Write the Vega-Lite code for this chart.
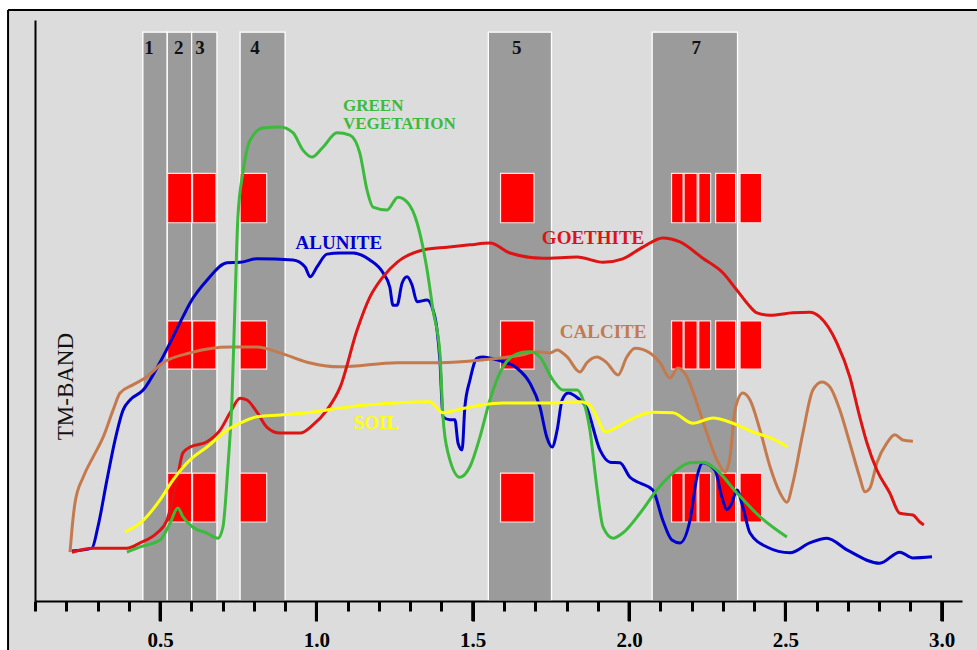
{
  "$schema": "https://vega.github.io/schema/vega-lite/v6.json",
  "width": 927,
  "height": 581,
  "autosize": {"type": "none"},
  "padding": {"left": 35, "top": 20, "right": 15, "bottom": 49},
  "background": "#dcdcdc",
  "config": {
    "view": {"stroke": null},
    "axis": {"grid": false, "title": null}
  },
  "layer": [
    {
      "data": {"values": [
        {"x1": -0.2, "x2": 0.0138, "y1": -30, "y2": 110},
        {"x1": -0.2, "x2": 3.4, "y1": 101.7, "y2": 110}
      ]},
      "mark": {"type": "rect", "fill": "#ffffff", "clip": false},
      "encoding": {
        "x": {"field": "x1", "type": "quantitative", "scale": {"domain": [0.1, 3.065], "nice": false, "zero": false}},
        "x2": {"field": "x2"},
        "y": {"field": "y1", "type": "quantitative", "scale": {"domain": [0, 100], "nice": false, "zero": false}},
        "y2": {"field": "y2"}
      }
    },
    {
      "data": {"values": [
        {"x1": 0.0138, "x2": 0.0138, "y1": -30, "y2": 101.7},
        {"x1": 0.0138, "x2": 3.4, "y1": 101.7, "y2": 101.7}
      ]},
      "mark": {"type": "rule", "color": "#000000", "strokeWidth": 2, "clip": false},
      "encoding": {
        "x": {"field": "x1", "type": "quantitative"},
        "x2": {"field": "x2"},
        "y": {"field": "y1", "type": "quantitative"},
        "y2": {"field": "y2"}
      }
    },
    {
      "data": {"values": [
        {"band": "1", "x1": 0.445, "x2": 0.523},
        {"band": "2", "x1": 0.523, "x2": 0.601},
        {"band": "3", "x1": 0.601, "x2": 0.682},
        {"band": "4", "x1": 0.756, "x2": 0.900},
        {"band": "5", "x1": 1.550, "x2": 1.752},
        {"band": "7", "x1": 2.074, "x2": 2.347}
      ]},
      "mark": {"type": "rect", "fill": "#9b9b9b", "stroke": "#ffffff", "strokeWidth": 1.3},
      "encoding": {
        "x": {"field": "x1", "type": "quantitative"},
        "x2": {"field": "x2"},
        "y": {"datum": 0, "type": "quantitative"},
        "y2": {"datum": 97.9}
      }
    },
    {
      "data": {"values": [
        {"x1": 0.524, "x2": 0.601, "y1": 65.1, "y2": 73.6},
        {"x1": 0.604, "x2": 0.679, "y1": 65.1, "y2": 73.6},
        {"x1": 0.756, "x2": 0.841, "y1": 65.1, "y2": 73.6},
        {"x1": 1.589, "x2": 1.696, "y1": 65.1, "y2": 73.6},
        {"x1": 2.136, "x2": 2.173, "y1": 65.1, "y2": 73.6},
        {"x1": 2.176, "x2": 2.218, "y1": 65.1, "y2": 73.6},
        {"x1": 2.223, "x2": 2.261, "y1": 65.1, "y2": 73.6},
        {"x1": 2.277, "x2": 2.341, "y1": 65.1, "y2": 73.6},
        {"x1": 2.355, "x2": 2.424, "y1": 65.1, "y2": 73.6},
        {"x1": 0.524, "x2": 0.601, "y1": 39.9, "y2": 48.2},
        {"x1": 0.604, "x2": 0.679, "y1": 39.9, "y2": 48.2},
        {"x1": 0.756, "x2": 0.841, "y1": 39.9, "y2": 48.2},
        {"x1": 1.589, "x2": 1.696, "y1": 39.9, "y2": 48.2},
        {"x1": 2.136, "x2": 2.173, "y1": 39.9, "y2": 48.2},
        {"x1": 2.176, "x2": 2.218, "y1": 39.9, "y2": 48.2},
        {"x1": 2.223, "x2": 2.261, "y1": 39.9, "y2": 48.2},
        {"x1": 2.277, "x2": 2.341, "y1": 39.9, "y2": 48.2},
        {"x1": 2.355, "x2": 2.424, "y1": 39.9, "y2": 48.2},
        {"x1": 0.524, "x2": 0.601, "y1": 13.6, "y2": 22.0},
        {"x1": 0.604, "x2": 0.679, "y1": 13.6, "y2": 22.0},
        {"x1": 0.756, "x2": 0.841, "y1": 13.6, "y2": 22.0},
        {"x1": 1.589, "x2": 1.696, "y1": 13.6, "y2": 22.0},
        {"x1": 2.136, "x2": 2.173, "y1": 13.6, "y2": 22.0},
        {"x1": 2.176, "x2": 2.218, "y1": 13.6, "y2": 22.0},
        {"x1": 2.223, "x2": 2.261, "y1": 13.6, "y2": 22.0},
        {"x1": 2.277, "x2": 2.341, "y1": 13.6, "y2": 22.0},
        {"x1": 2.355, "x2": 2.424, "y1": 13.6, "y2": 22.0}
      ]},
      "mark": {"type": "rect", "fill": "#ff0000", "stroke": "#ffe4e4", "strokeWidth": 1.2},
      "encoding": {
        "x": {"field": "x1", "type": "quantitative"},
        "x2": {"field": "x2"},
        "y": {"field": "y1", "type": "quantitative"},
        "y2": {"field": "y2"}
      }
    },
    {
      "data": {"values": [
        {"band": "1", "lx": 0.465},
        {"band": "2", "lx": 0.560},
        {"band": "3", "lx": 0.628},
        {"band": "4", "lx": 0.804},
        {"band": "5", "lx": 1.641},
        {"band": "7", "lx": 2.215}
      ]},
      "mark": {"type": "text", "font": "Liberation Serif", "fontWeight": "bold", "fontSize": 19, "color": "#111111", "baseline": "middle", "align": "center"},
      "encoding": {
        "x": {"field": "lx", "type": "quantitative"},
        "y": {"datum": 95.2, "type": "quantitative"},
        "text": {"field": "band"}
      }
    },
    {
      "data": {"values": [
        {"m": "ALUNITE", "x": 0.218, "y": 8.6},
        {"m": "ALUNITE", "x": 0.282, "y": 9.1},
        {"m": "ALUNITE", "x": 0.301, "y": 12.7},
        {"m": "ALUNITE", "x": 0.330, "y": 20.8},
        {"m": "ALUNITE", "x": 0.356, "y": 27.7},
        {"m": "ALUNITE", "x": 0.382, "y": 32.9},
        {"m": "ALUNITE", "x": 0.404, "y": 34.6},
        {"m": "ALUNITE", "x": 0.446, "y": 36.3},
        {"m": "ALUNITE", "x": 0.500, "y": 41.1},
        {"m": "ALUNITE", "x": 0.573, "y": 48.9},
        {"m": "ALUNITE", "x": 0.596, "y": 51.3},
        {"m": "ALUNITE", "x": 0.650, "y": 55.2},
        {"m": "ALUNITE", "x": 0.714, "y": 58.2},
        {"m": "ALUNITE", "x": 0.756, "y": 58.3},
        {"m": "ALUNITE", "x": 0.810, "y": 58.9},
        {"m": "ALUNITE", "x": 0.925, "y": 58.7},
        {"m": "ALUNITE", "x": 0.964, "y": 57.5},
        {"m": "ALUNITE", "x": 0.980, "y": 55.8},
        {"m": "ALUNITE", "x": 1.002, "y": 57.5},
        {"m": "ALUNITE", "x": 1.034, "y": 59.7},
        {"m": "ALUNITE", "x": 1.076, "y": 59.9},
        {"m": "ALUNITE", "x": 1.117, "y": 59.9},
        {"m": "ALUNITE", "x": 1.171, "y": 58.7},
        {"m": "ALUNITE", "x": 1.213, "y": 56.5},
        {"m": "ALUNITE", "x": 1.235, "y": 54.0},
        {"m": "ALUNITE", "x": 1.245, "y": 50.9},
        {"m": "ALUNITE", "x": 1.258, "y": 50.9},
        {"m": "ALUNITE", "x": 1.274, "y": 54.7},
        {"m": "ALUNITE", "x": 1.290, "y": 55.8},
        {"m": "ALUNITE", "x": 1.306, "y": 54.4},
        {"m": "ALUNITE", "x": 1.322, "y": 51.5},
        {"m": "ALUNITE", "x": 1.354, "y": 51.8},
        {"m": "ALUNITE", "x": 1.370, "y": 50.6},
        {"m": "ALUNITE", "x": 1.386, "y": 46.6},
        {"m": "ALUNITE", "x": 1.395, "y": 41.5},
        {"m": "ALUNITE", "x": 1.405, "y": 31.7},
        {"m": "ALUNITE", "x": 1.427, "y": 31.2},
        {"m": "ALUNITE", "x": 1.443, "y": 31.2},
        {"m": "ALUNITE", "x": 1.453, "y": 27.2},
        {"m": "ALUNITE", "x": 1.466, "y": 26.0},
        {"m": "ALUNITE", "x": 1.475, "y": 33.4},
        {"m": "ALUNITE", "x": 1.491, "y": 38.0},
        {"m": "ALUNITE", "x": 1.514, "y": 41.8},
        {"m": "ALUNITE", "x": 1.533, "y": 42.0},
        {"m": "ALUNITE", "x": 1.578, "y": 41.5},
        {"m": "ALUNITE", "x": 1.641, "y": 40.1},
        {"m": "ALUNITE", "x": 1.683, "y": 37.5},
        {"m": "ALUNITE", "x": 1.715, "y": 33.4},
        {"m": "ALUNITE", "x": 1.737, "y": 28.2},
        {"m": "ALUNITE", "x": 1.754, "y": 26.5},
        {"m": "ALUNITE", "x": 1.770, "y": 29.4},
        {"m": "ALUNITE", "x": 1.786, "y": 34.6},
        {"m": "ALUNITE", "x": 1.805, "y": 35.8},
        {"m": "ALUNITE", "x": 1.837, "y": 34.9},
        {"m": "ALUNITE", "x": 1.865, "y": 33.2},
        {"m": "ALUNITE", "x": 1.907, "y": 26.0},
        {"m": "ALUNITE", "x": 1.939, "y": 23.9},
        {"m": "ALUNITE", "x": 1.971, "y": 23.8},
        {"m": "ALUNITE", "x": 2.003, "y": 21.3},
        {"m": "ALUNITE", "x": 2.035, "y": 20.3},
        {"m": "ALUNITE", "x": 2.076, "y": 19.1},
        {"m": "ALUNITE", "x": 2.108, "y": 13.9},
        {"m": "ALUNITE", "x": 2.137, "y": 10.5},
        {"m": "ALUNITE", "x": 2.163, "y": 10.0},
        {"m": "ALUNITE", "x": 2.195, "y": 13.9},
        {"m": "ALUNITE", "x": 2.217, "y": 21.3},
        {"m": "ALUNITE", "x": 2.236, "y": 23.8},
        {"m": "ALUNITE", "x": 2.275, "y": 22.5},
        {"m": "ALUNITE", "x": 2.297, "y": 17.9},
        {"m": "ALUNITE", "x": 2.313, "y": 15.7},
        {"m": "ALUNITE", "x": 2.329, "y": 16.9},
        {"m": "ALUNITE", "x": 2.345, "y": 19.1},
        {"m": "ALUNITE", "x": 2.364, "y": 16.2},
        {"m": "ALUNITE", "x": 2.387, "y": 11.7},
        {"m": "ALUNITE", "x": 2.441, "y": 9.3},
        {"m": "ALUNITE", "x": 2.515, "y": 8.3},
        {"m": "ALUNITE", "x": 2.578, "y": 10.0},
        {"m": "ALUNITE", "x": 2.633, "y": 10.8},
        {"m": "ALUNITE", "x": 2.697, "y": 8.8},
        {"m": "ALUNITE", "x": 2.802, "y": 6.5},
        {"m": "ALUNITE", "x": 2.866, "y": 8.4},
        {"m": "ALUNITE", "x": 2.908, "y": 7.4},
        {"m": "ALUNITE", "x": 2.969, "y": 7.6},

        {"m": "CALCITE", "x": 0.212, "y": 8.4},
        {"m": "CALCITE", "x": 0.218, "y": 12.2},
        {"m": "CALCITE", "x": 0.228, "y": 16.9},
        {"m": "CALCITE", "x": 0.254, "y": 21.3},
        {"m": "CALCITE", "x": 0.286, "y": 24.8},
        {"m": "CALCITE", "x": 0.318, "y": 28.2},
        {"m": "CALCITE", "x": 0.350, "y": 32.9},
        {"m": "CALCITE", "x": 0.372, "y": 35.8},
        {"m": "CALCITE", "x": 0.413, "y": 37.2},
        {"m": "CALCITE", "x": 0.458, "y": 38.6},
        {"m": "CALCITE", "x": 0.509, "y": 41.0},
        {"m": "CALCITE", "x": 0.596, "y": 42.7},
        {"m": "CALCITE", "x": 0.724, "y": 43.7},
        {"m": "CALCITE", "x": 0.810, "y": 43.7},
        {"m": "CALCITE", "x": 0.884, "y": 42.7},
        {"m": "CALCITE", "x": 0.970, "y": 41.1},
        {"m": "CALCITE", "x": 1.076, "y": 40.3},
        {"m": "CALCITE", "x": 1.258, "y": 41.0},
        {"m": "CALCITE", "x": 1.395, "y": 41.0},
        {"m": "CALCITE", "x": 1.533, "y": 41.5},
        {"m": "CALCITE", "x": 1.651, "y": 42.3},
        {"m": "CALCITE", "x": 1.705, "y": 42.9},
        {"m": "CALCITE", "x": 1.747, "y": 42.7},
        {"m": "CALCITE", "x": 1.770, "y": 43.2},
        {"m": "CALCITE", "x": 1.802, "y": 42.0},
        {"m": "CALCITE", "x": 1.843, "y": 39.4},
        {"m": "CALCITE", "x": 1.865, "y": 41.0},
        {"m": "CALCITE", "x": 1.897, "y": 42.0},
        {"m": "CALCITE", "x": 1.929, "y": 41.0},
        {"m": "CALCITE", "x": 1.965, "y": 38.9},
        {"m": "CALCITE", "x": 1.993, "y": 42.0},
        {"m": "CALCITE", "x": 2.019, "y": 43.5},
        {"m": "CALCITE", "x": 2.067, "y": 42.7},
        {"m": "CALCITE", "x": 2.099, "y": 41.0},
        {"m": "CALCITE", "x": 2.131, "y": 38.4},
        {"m": "CALCITE", "x": 2.156, "y": 40.1},
        {"m": "CALCITE", "x": 2.185, "y": 38.6},
        {"m": "CALCITE", "x": 2.217, "y": 34.1},
        {"m": "CALCITE", "x": 2.249, "y": 28.9},
        {"m": "CALCITE", "x": 2.281, "y": 24.3},
        {"m": "CALCITE", "x": 2.307, "y": 22.2},
        {"m": "CALCITE", "x": 2.323, "y": 24.8},
        {"m": "CALCITE", "x": 2.339, "y": 32.9},
        {"m": "CALCITE", "x": 2.364, "y": 35.8},
        {"m": "CALCITE", "x": 2.387, "y": 34.6},
        {"m": "CALCITE", "x": 2.419, "y": 29.4},
        {"m": "CALCITE", "x": 2.451, "y": 23.1},
        {"m": "CALCITE", "x": 2.483, "y": 18.6},
        {"m": "CALCITE", "x": 2.505, "y": 17.0},
        {"m": "CALCITE", "x": 2.524, "y": 20.3},
        {"m": "CALCITE", "x": 2.556, "y": 28.9},
        {"m": "CALCITE", "x": 2.588, "y": 36.3},
        {"m": "CALCITE", "x": 2.617, "y": 37.7},
        {"m": "CALCITE", "x": 2.643, "y": 36.8},
        {"m": "CALCITE", "x": 2.674, "y": 32.9},
        {"m": "CALCITE", "x": 2.706, "y": 27.2},
        {"m": "CALCITE", "x": 2.738, "y": 21.3},
        {"m": "CALCITE", "x": 2.754, "y": 18.8},
        {"m": "CALCITE", "x": 2.770, "y": 19.4},
        {"m": "CALCITE", "x": 2.793, "y": 23.8},
        {"m": "CALCITE", "x": 2.825, "y": 27.2},
        {"m": "CALCITE", "x": 2.850, "y": 28.6},
        {"m": "CALCITE", "x": 2.876, "y": 27.7},
        {"m": "CALCITE", "x": 2.908, "y": 27.5},

        {"m": "GOETHITE", "x": 0.218, "y": 8.4},
        {"m": "GOETHITE", "x": 0.286, "y": 9.1},
        {"m": "GOETHITE", "x": 0.394, "y": 9.1},
        {"m": "GOETHITE", "x": 0.436, "y": 10.0},
        {"m": "GOETHITE", "x": 0.490, "y": 11.7},
        {"m": "GOETHITE", "x": 0.522, "y": 13.9},
        {"m": "GOETHITE", "x": 0.554, "y": 20.8},
        {"m": "GOETHITE", "x": 0.573, "y": 25.5},
        {"m": "GOETHITE", "x": 0.596, "y": 26.5},
        {"m": "GOETHITE", "x": 0.650, "y": 27.4},
        {"m": "GOETHITE", "x": 0.692, "y": 29.4},
        {"m": "GOETHITE", "x": 0.724, "y": 32.4},
        {"m": "GOETHITE", "x": 0.756, "y": 34.9},
        {"m": "GOETHITE", "x": 0.778, "y": 34.6},
        {"m": "GOETHITE", "x": 0.810, "y": 32.5},
        {"m": "GOETHITE", "x": 0.842, "y": 29.9},
        {"m": "GOETHITE", "x": 0.884, "y": 28.9},
        {"m": "GOETHITE", "x": 0.948, "y": 28.9},
        {"m": "GOETHITE", "x": 0.989, "y": 30.3},
        {"m": "GOETHITE", "x": 1.034, "y": 32.9},
        {"m": "GOETHITE", "x": 1.076, "y": 36.8},
        {"m": "GOETHITE", "x": 1.130, "y": 46.6},
        {"m": "GOETHITE", "x": 1.171, "y": 52.3},
        {"m": "GOETHITE", "x": 1.213, "y": 55.8},
        {"m": "GOETHITE", "x": 1.258, "y": 58.3},
        {"m": "GOETHITE", "x": 1.341, "y": 60.4},
        {"m": "GOETHITE", "x": 1.418, "y": 60.9},
        {"m": "GOETHITE", "x": 1.491, "y": 61.3},
        {"m": "GOETHITE", "x": 1.555, "y": 61.6},
        {"m": "GOETHITE", "x": 1.619, "y": 59.9},
        {"m": "GOETHITE", "x": 1.725, "y": 59.0},
        {"m": "GOETHITE", "x": 1.834, "y": 59.2},
        {"m": "GOETHITE", "x": 1.917, "y": 58.3},
        {"m": "GOETHITE", "x": 1.980, "y": 58.9},
        {"m": "GOETHITE", "x": 2.044, "y": 60.9},
        {"m": "GOETHITE", "x": 2.108, "y": 62.5},
        {"m": "GOETHITE", "x": 2.163, "y": 61.8},
        {"m": "GOETHITE", "x": 2.236, "y": 59.0},
        {"m": "GOETHITE", "x": 2.300, "y": 56.5},
        {"m": "GOETHITE", "x": 2.345, "y": 53.5},
        {"m": "GOETHITE", "x": 2.377, "y": 51.3},
        {"m": "GOETHITE", "x": 2.409, "y": 49.6},
        {"m": "GOETHITE", "x": 2.451, "y": 49.2},
        {"m": "GOETHITE", "x": 2.524, "y": 49.6},
        {"m": "GOETHITE", "x": 2.578, "y": 49.7},
        {"m": "GOETHITE", "x": 2.610, "y": 48.9},
        {"m": "GOETHITE", "x": 2.665, "y": 44.4},
        {"m": "GOETHITE", "x": 2.706, "y": 38.6},
        {"m": "GOETHITE", "x": 2.738, "y": 31.7},
        {"m": "GOETHITE", "x": 2.761, "y": 27.2},
        {"m": "GOETHITE", "x": 2.793, "y": 22.5},
        {"m": "GOETHITE", "x": 2.834, "y": 18.6},
        {"m": "GOETHITE", "x": 2.866, "y": 15.1},
        {"m": "GOETHITE", "x": 2.908, "y": 14.8},
        {"m": "GOETHITE", "x": 2.930, "y": 13.6},
        {"m": "GOETHITE", "x": 2.943, "y": 13.1},

        {"m": "GREEN VEGETATION", "x": 0.394, "y": 8.4},
        {"m": "GREEN VEGETATION", "x": 0.436, "y": 9.3},
        {"m": "GREEN VEGETATION", "x": 0.500, "y": 10.5},
        {"m": "GREEN VEGETATION", "x": 0.532, "y": 13.4},
        {"m": "GREEN VEGETATION", "x": 0.557, "y": 16.0},
        {"m": "GREEN VEGETATION", "x": 0.573, "y": 14.5},
        {"m": "GREEN VEGETATION", "x": 0.605, "y": 12.7},
        {"m": "GREEN VEGETATION", "x": 0.650, "y": 11.7},
        {"m": "GREEN VEGETATION", "x": 0.685, "y": 10.8},
        {"m": "GREEN VEGETATION", "x": 0.701, "y": 12.7},
        {"m": "GREEN VEGETATION", "x": 0.717, "y": 23.1},
        {"m": "GREEN VEGETATION", "x": 0.730, "y": 34.6},
        {"m": "GREEN VEGETATION", "x": 0.740, "y": 51.8},
        {"m": "GREEN VEGETATION", "x": 0.749, "y": 66.1},
        {"m": "GREEN VEGETATION", "x": 0.765, "y": 73.7},
        {"m": "GREEN VEGETATION", "x": 0.788, "y": 79.3},
        {"m": "GREEN VEGETATION", "x": 0.829, "y": 81.4},
        {"m": "GREEN VEGETATION", "x": 0.884, "y": 81.6},
        {"m": "GREEN VEGETATION", "x": 0.925, "y": 80.6},
        {"m": "GREEN VEGETATION", "x": 0.957, "y": 77.6},
        {"m": "GREEN VEGETATION", "x": 0.986, "y": 76.4},
        {"m": "GREEN VEGETATION", "x": 1.021, "y": 78.1},
        {"m": "GREEN VEGETATION", "x": 1.066, "y": 80.6},
        {"m": "GREEN VEGETATION", "x": 1.107, "y": 80.2},
        {"m": "GREEN VEGETATION", "x": 1.139, "y": 77.1},
        {"m": "GREEN VEGETATION", "x": 1.162, "y": 70.7},
        {"m": "GREEN VEGETATION", "x": 1.181, "y": 67.8},
        {"m": "GREEN VEGETATION", "x": 1.226, "y": 67.3},
        {"m": "GREEN VEGETATION", "x": 1.261, "y": 69.5},
        {"m": "GREEN VEGETATION", "x": 1.293, "y": 68.5},
        {"m": "GREEN VEGETATION", "x": 1.322, "y": 65.1},
        {"m": "GREEN VEGETATION", "x": 1.354, "y": 57.0},
        {"m": "GREEN VEGETATION", "x": 1.373, "y": 50.1},
        {"m": "GREEN VEGETATION", "x": 1.395, "y": 42.7},
        {"m": "GREEN VEGETATION", "x": 1.405, "y": 31.7},
        {"m": "GREEN VEGETATION", "x": 1.421, "y": 25.5},
        {"m": "GREEN VEGETATION", "x": 1.459, "y": 21.3},
        {"m": "GREEN VEGETATION", "x": 1.491, "y": 23.1},
        {"m": "GREEN VEGETATION", "x": 1.523, "y": 28.2},
        {"m": "GREEN VEGETATION", "x": 1.555, "y": 34.6},
        {"m": "GREEN VEGETATION", "x": 1.597, "y": 40.3},
        {"m": "GREEN VEGETATION", "x": 1.651, "y": 42.7},
        {"m": "GREEN VEGETATION", "x": 1.683, "y": 42.9},
        {"m": "GREEN VEGETATION", "x": 1.715, "y": 42.0},
        {"m": "GREEN VEGETATION", "x": 1.757, "y": 38.0},
        {"m": "GREEN VEGETATION", "x": 1.789, "y": 36.3},
        {"m": "GREEN VEGETATION", "x": 1.834, "y": 36.3},
        {"m": "GREEN VEGETATION", "x": 1.853, "y": 34.6},
        {"m": "GREEN VEGETATION", "x": 1.875, "y": 29.4},
        {"m": "GREEN VEGETATION", "x": 1.897, "y": 19.6},
        {"m": "GREEN VEGETATION", "x": 1.917, "y": 12.7},
        {"m": "GREEN VEGETATION", "x": 1.949, "y": 10.8},
        {"m": "GREEN VEGETATION", "x": 1.980, "y": 11.7},
        {"m": "GREEN VEGETATION", "x": 2.035, "y": 15.1},
        {"m": "GREEN VEGETATION", "x": 2.089, "y": 19.1},
        {"m": "GREEN VEGETATION", "x": 2.140, "y": 22.0},
        {"m": "GREEN VEGETATION", "x": 2.195, "y": 23.8},
        {"m": "GREEN VEGETATION", "x": 2.236, "y": 23.9},
        {"m": "GREEN VEGETATION", "x": 2.281, "y": 22.5},
        {"m": "GREEN VEGETATION", "x": 2.345, "y": 18.6},
        {"m": "GREEN VEGETATION", "x": 2.419, "y": 14.5},
        {"m": "GREEN VEGETATION", "x": 2.505, "y": 11.0},

        {"m": "SOIL", "x": 0.388, "y": 11.9},
        {"m": "SOIL", "x": 0.436, "y": 13.4},
        {"m": "SOIL", "x": 0.500, "y": 17.4},
        {"m": "SOIL", "x": 0.541, "y": 20.8},
        {"m": "SOIL", "x": 0.596, "y": 24.3},
        {"m": "SOIL", "x": 0.650, "y": 26.5},
        {"m": "SOIL", "x": 0.714, "y": 29.4},
        {"m": "SOIL", "x": 0.756, "y": 30.6},
        {"m": "SOIL", "x": 0.810, "y": 31.7},
        {"m": "SOIL", "x": 0.884, "y": 32.0},
        {"m": "SOIL", "x": 0.970, "y": 32.4},
        {"m": "SOIL", "x": 1.076, "y": 33.2},
        {"m": "SOIL", "x": 1.149, "y": 33.7},
        {"m": "SOIL", "x": 1.258, "y": 34.1},
        {"m": "SOIL", "x": 1.363, "y": 34.3},
        {"m": "SOIL", "x": 1.405, "y": 32.4},
        {"m": "SOIL", "x": 1.450, "y": 32.9},
        {"m": "SOIL", "x": 1.523, "y": 33.7},
        {"m": "SOIL", "x": 1.597, "y": 34.1},
        {"m": "SOIL", "x": 1.757, "y": 34.1},
        {"m": "SOIL", "x": 1.843, "y": 34.3},
        {"m": "SOIL", "x": 1.875, "y": 33.7},
        {"m": "SOIL", "x": 1.897, "y": 31.7},
        {"m": "SOIL", "x": 1.923, "y": 29.1},
        {"m": "SOIL", "x": 1.961, "y": 29.9},
        {"m": "SOIL", "x": 2.003, "y": 31.2},
        {"m": "SOIL", "x": 2.076, "y": 32.5},
        {"m": "SOIL", "x": 2.140, "y": 32.4},
        {"m": "SOIL", "x": 2.204, "y": 30.6},
        {"m": "SOIL", "x": 2.268, "y": 31.5},
        {"m": "SOIL", "x": 2.332, "y": 30.6},
        {"m": "SOIL", "x": 2.396, "y": 29.1},
        {"m": "SOIL", "x": 2.451, "y": 28.1},
        {"m": "SOIL", "x": 2.508, "y": 26.5}
      ]},
      "mark": {"type": "line", "strokeWidth": 3, "interpolate": "monotone"},
      "encoding": {
        "x": {"field": "x", "type": "quantitative",
          "axis": {"values": [0.1,0.2,0.3,0.4,0.5,0.6,0.7,0.8,0.9,1.0,1.1,1.2,1.3,1.4,1.5,1.6,1.7,1.8,1.9,2.0,2.1,2.2,2.3,2.4,2.5,2.6,2.7,2.8,2.9,3.0],
            "tickCount": 60,
            "zindex": 2, "grid": false, "title": null,
            "domain": true, "domainColor": "#000000", "domainWidth": 2,
            "ticks": true, "tickColor": "#000000", "tickWidth": 3,
            "tickSize": {"condition": {"test": "abs(datum.value * 2 - round(datum.value * 2)) < 0.001", "value": 20}, "value": 10},
            "labelExpr": "abs(datum.value * 2 - round(datum.value * 2)) < 0.001 ? format(datum.value, '.1f') : ''",
            "labelFont": "Liberation Serif", "labelFontWeight": "bold", "labelFontSize": 21, "labelColor": "#000000",
            "labelPadding": 8, "labelOverlap": false, "labelBound": false, "labelFlush": false}},
        "y": {"field": "y", "type": "quantitative",
          "axis": {"title": null, "zindex": 2, "grid": false, "domain": true, "domainColor": "#000000", "domainWidth": 2, "ticks": false, "labels": false}},
        "color": {"field": "m", "type": "nominal", "legend": null, "scale": {"domain": ["ALUNITE", "CALCITE", "GOETHITE", "GREEN VEGETATION", "SOIL"], "range": ["#0000cc", "#c47a4c", "#dd1414", "#3cba3c", "#ffff10"]}}
      }
    },
    {
      "data": {"values": [
        {"tick": 0.5}, {"tick": 1.0}, {"tick": 1.5}, {"tick": 2.0}, {"tick": 2.5}, {"tick": 3.0}
      ]},
      "mark": {"type": "rule", "color": "#000000", "strokeWidth": 3, "clip": false},
      "encoding": {
        "x": {"field": "tick", "type": "quantitative"},
        "y": {"datum": 0, "type": "quantitative"},
        "y2": {"datum": -3.44}
      }
    },
    {
      "data": {"values": [
        {"t": "GREEN", "m": "GREEN VEGETATION", "x": 1.085, "y": 85.2},
        {"t": "VEGETATION", "m": "GREEN VEGETATION", "x": 1.085, "y": 82.1}
      ]},
      "mark": {"type": "text", "font": "Liberation Serif", "fontWeight": "bold", "fontSize": 17, "align": "left", "baseline": "middle"},
      "encoding": {
        "x": {"field": "x", "type": "quantitative"},
        "y": {"field": "y", "type": "quantitative"},
        "text": {"field": "t"},
        "color": {"field": "m", "type": "nominal", "legend": null}
      }
    },
    {
      "data": {"values": [
        {"t": "ALUNITE", "m": "ALUNITE", "x": 1.072, "y": 61.6},
        {"t": "GOETHITE", "m": "GOETHITE", "x": 1.885, "y": 62.5},
        {"t": "CALCITE", "m": "CALCITE", "x": 1.917, "y": 46.3},
        {"t": "SOIL", "m": "SOIL", "x": 1.191, "y": 30.6}
      ]},
      "mark": {"type": "text", "font": "Liberation Serif", "fontWeight": "bold", "fontSize": 19, "align": "center", "baseline": "middle"},
      "encoding": {
        "x": {"field": "x", "type": "quantitative"},
        "y": {"field": "y", "type": "quantitative"},
        "text": {"field": "t"},
        "color": {"field": "m", "type": "nominal", "legend": null}
      }
    },
    {
      "data": {"values": [{"t": "TM-BAND", "x": 0.2, "y": 36.9}]},
      "mark": {"type": "text", "font": "Liberation Serif", "fontSize": 23, "angle": 270, "align": "center", "baseline": "middle", "color": "#111111"},
      "encoding": {
        "x": {"field": "x", "type": "quantitative"},
        "y": {"field": "y", "type": "quantitative"},
        "text": {"field": "t"}
      }
    }
  ]
}
